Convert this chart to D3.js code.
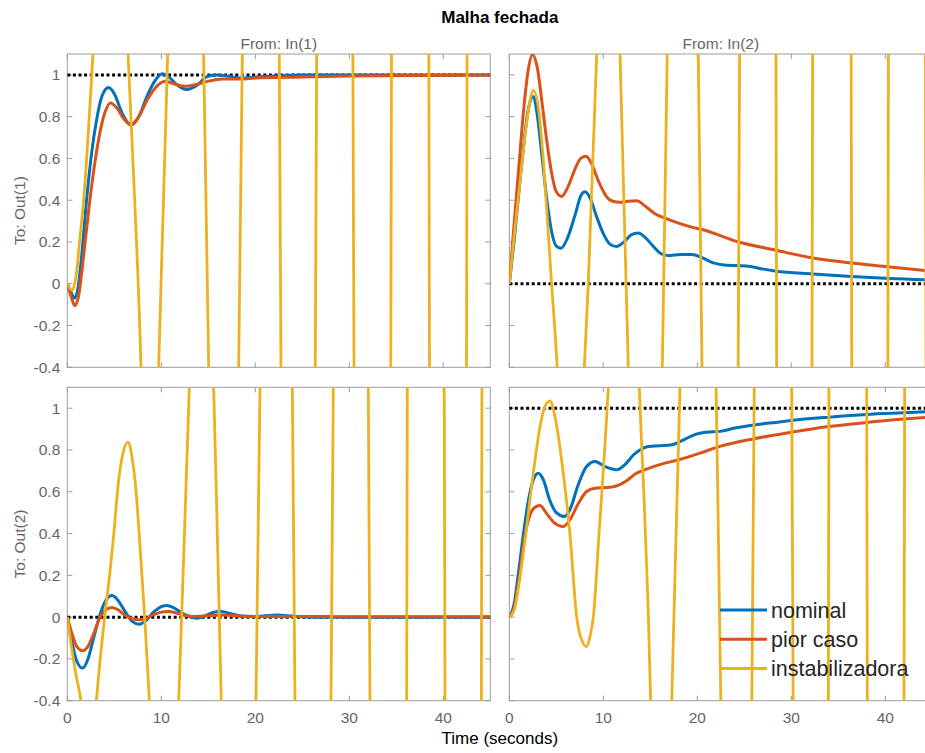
<!DOCTYPE html>
<html>
<head>
<script src="https://cdn.jsdelivr.net/npm/d3@7"></script>
  <meta charset="utf-8">
  <title>Malha fechada</title>
  <style>
    body { margin: 0; background: #fff; }
    svg { display: block; font-family: "Liberation Sans", Arial, sans-serif; }
  </style>
</head>
<body>
  <div id="chartArea"></div>
  <script>
  // ---- data ----
  var seriesNames = ['nominal', 'pior caso', 'instabilizadora'];
  var seriesColors = ['#0072BD', '#D95319', '#EDB120'];
  var inputLabels = ['From: In(1)', 'From: In(2)'];
  var outputLabels = ['To: Out(1)', 'To: Out(2)'];
  var xTicks = [0, 10, 20, 30, 40];
  var yTicks = [-0.4, -0.2, 0, 0.2, 0.4, 0.6, 0.8, 1];
  var steadyOut1 = [1, 0];   // final value, In(1), In(2)
  var steadyOut2 = [0, 1];

  // Out(1) <- In(1)
  var nom11 = [[0,0],[0.4,-0.04],[0.75,-0.07],[1.1,-0.03],[1.5,0.12],[2.05,0.4],[2.6,0.63],[3.1,0.78],[3.7,0.9],[4.4,0.94],[5,0.91],[5.8,0.82],[6.8,0.76],[7.6,0.8],[8.5,0.9],[9.3,0.97],[10.1,1.005],[10.8,0.99],[11.6,0.955],[12.7,0.93],[13.8,0.95],[14.8,0.99],[15.9,1],[17,0.995],[18.4,0.985],[20,0.99],[22,0.995],[25,1],[30,1],[45,1]];
  var pior11 = [[0,0],[0.4,-0.06],[0.8,-0.105],[1.2,-0.06],[1.6,0.08],[2,0.24],[2.4,0.4],[3,0.6],[3.5,0.73],[4,0.82],[4.6,0.866],[5.3,0.84],[6,0.79],[6.8,0.762],[7.6,0.8],[8.5,0.88],[9.4,0.94],[10.4,0.97],[11.5,0.955],[12.6,0.945],[13.8,0.955],[15,0.97],[16.5,0.98],[18.4,0.98],[20,0.985],[25,0.99],[30,0.995],[45,1]];
  var inst11 = [[0,0],[0.5,-0.03],[1,0.06],[1.3,0.2],[1.74,0.4],[2.34,0.8],[2.73,1.1],[4.6,2.2],[6.46,1.1],[7.17,0.4],[7.84,-0.4],[8.8,-2.6],[9.72,-0.4],[10.2,0.35],[10.68,1.1],[12.6,4],[14.5,1.1],[15.04,-0.4],[16.6,-6.5],[18.23,-0.4],[18.62,1.1],[20.6,10],[22.55,1.1],[22.73,-0.4],[24.6,-18],[26.38,-0.4],[26.53,1.1],[28.5,22],[30.38,1.1],[30.5,-0.4],[32.5,-32],[34.41,-0.4],[34.49,1.1],[36.5,40],[38.46,1.1],[38.53,-0.4],[40.5,-46],[42.47,-0.4],[42.53,1.1],[45,60]];

  // Out(1) <- In(2)
  var nom12 = [[0,0],[0.5,0.2],[1,0.43],[1.5,0.65],[2,0.83],[2.55,0.897],[3,0.8],[3.5,0.6],[4,0.4],[4.5,0.25],[5,0.18],[5.5,0.17],[6.2,0.22],[7,0.33],[7.6,0.42],[8.05,0.44],[8.6,0.41],[9.3,0.32],[10,0.24],[10.7,0.19],[11.4,0.178],[12.2,0.2],[13,0.235],[13.7,0.243],[14.5,0.22],[15.3,0.18],[16.1,0.145],[16.9,0.135],[18.2,0.14],[19.4,0.14],[20.5,0.125],[21.7,0.1],[22.8,0.09],[24.2,0.087],[25.6,0.083],[27,0.07],[28.4,0.06],[32.3,0.047],[36.4,0.035],[40.5,0.025],[45,0.018]];
  var pior12 = [[0,0],[0.5,0.28],[1,0.55],[1.5,0.82],[2,1.02],[2.45,1.097],[3,1.03],[3.5,0.86],[4,0.68],[4.5,0.53],[5,0.44],[5.57,0.418],[6.2,0.46],[7,0.55],[7.6,0.6],[8.16,0.61],[8.8,0.57],[9.5,0.49],[10.3,0.42],[11,0.395],[11.8,0.39],[12.6,0.395],[13.55,0.397],[14.5,0.37],[15.5,0.335],[16.56,0.314],[18,0.29],[19.5,0.27],[20.5,0.26],[24.4,0.2],[28.4,0.16],[32.3,0.123],[36.4,0.099],[40.5,0.08],[45,0.06]];
  var inst12 = [[0,0],[0.5,0.22],[1,0.43],[1.5,0.64],[2,0.82],[2.55,0.926],[3,0.87],[3.5,0.66],[4,0.34],[4.5,0],[5.1,-0.4],[6.5,-2],[7.98,-0.4],[8.4,0],[9.3,1.1],[10.6,3.5],[11.78,1.1],[12.66,-0.4],[14.4,-4],[16.28,-0.4],[16.8,1.1],[18.4,6],[20.1,1.1],[20.5,-0.4],[22.4,-10],[24.35,-0.4],[24.5,1.1],[26.4,16],[28.37,1.1],[28.44,-0.4],[30.3,-22],[32.2,-0.4],[32.27,1.1],[34.3,30],[36.37,1.1],[36.43,-0.4],[38.4,-40],[40.27,-0.4],[40.33,1.1],[42.3,50],[44.27,1.1],[44.33,-0.4],[45,-10]];

  // Out(2) <- In(1)
  var nom21 = [[0,0],[0.5,-0.12],[1,-0.21],[1.63,-0.244],[2.2,-0.2],[2.8,-0.1],[3.4,0],[4.1,0.08],[4.76,0.103],[5.4,0.08],[6.1,0.03],[6.9,-0.02],[7.66,-0.034],[8.4,-0.015],[9.2,0.025],[10,0.05],[10.6,0.056],[11.3,0.045],[12.2,0.02],[13,0.003],[13.8,-0.005],[14.6,0.005],[15.5,0.022],[16.3,0.027],[17.3,0.018],[18.5,0.005],[20,0.003],[22.3,0.01],[24,0.005],[26,0],[45,0]];
  var pior21 = [[0,0],[0.5,-0.08],[1,-0.14],[1.63,-0.161],[2.2,-0.14],[2.8,-0.08],[3.4,-0.01],[4.1,0.035],[4.76,0.046],[5.4,0.035],[6.1,0.01],[6.9,-0.008],[7.66,-0.013],[8.4,-0.005],[9.2,0.012],[10,0.024],[10.8,0.027],[11.6,0.02],[12.5,0.008],[13.5,0.003],[15,0.006],[16.5,0.01],[18,0.006],[20,0.003],[25,0.003],[30,0.002],[45,0.002]];
  var inst21 = [[0,0],[0.4,-0.13],[0.9,-0.27],[1.46,-0.4],[2.3,-0.75],[3.09,-0.4],[3.5,-0.2],[3.97,0],[4.5,0.2],[4.93,0.39],[5.4,0.63],[5.9,0.78],[6.46,0.838],[6.9,0.76],[7.3,0.61],[7.66,0.39],[8.23,0],[8.73,-0.4],[10.3,-2.5],[11.85,-0.4],[12.98,1.1],[14.3,3.5],[15.57,1.1],[16.38,-0.4],[18.2,-6],[20.07,-0.4],[20.5,1.1],[22.2,9],[23.94,1.1],[24.22,-0.4],[26.1,-14],[28.05,-0.4],[28.3,1.1],[30.2,20],[32.02,1.1],[32.2,-0.4],[34.1,-28],[36.1,-0.4],[36.17,1.1],[38.1,36],[40.1,1.1],[40.18,-0.4],[42.1,-45],[44.05,-0.4],[44.11,1.1],[45,20]];

  // Out(2) <- In(2)
  var nom22 = [[0,0],[0.5,0.06],[1,0.22],[1.49,0.394],[2,0.55],[2.5,0.65],[3.09,0.689],[3.6,0.66],[4.3,0.56],[5,0.5],[5.85,0.482],[6.5,0.52],[7.3,0.63],[8.2,0.72],[9.12,0.745],[10.2,0.72],[11.4,0.705],[12.3,0.73],[13.3,0.78],[14.8,0.817],[16,0.82],[17.3,0.825],[18.6,0.85],[19.8,0.875],[21,0.885],[22.4,0.889],[24,0.905],[25.96,0.92],[28,0.93],[30,0.941],[34,0.957],[38,0.97],[42,0.978],[45,0.984]];
  var pior22 = [[0,0],[0.5,0.04],[1,0.17],[1.67,0.394],[2.3,0.5],[2.7,0.525],[3.27,0.534],[3.9,0.5],[4.7,0.455],[5.74,0.434],[6.5,0.47],[7.3,0.54],[8.2,0.6],[9.12,0.617],[10.2,0.62],[11.2,0.625],[12.4,0.65],[13.4,0.685],[14.4,0.705],[16,0.73],[18,0.753],[20.3,0.785],[22.4,0.817],[25.96,0.853],[30,0.885],[34,0.912],[38,0.932],[42,0.948],[45,0.958]];
  var inst22 = [[0,0],[0.5,0.03],[1,0.15],[1.74,0.394],[2.55,0.689],[3.3,0.92],[3.8,1.01],[4.33,1.035],[4.9,0.95],[5.74,0.689],[6.46,0.394],[7.17,0],[7.7,-0.11],[8.23,-0.141],[8.6,-0.09],[8.94,0],[9.54,0.394],[10.53,1.1],[12.2,3],[13.83,1.1],[15.04,-0.4],[16.2,-3.5],[17.28,-0.4],[18.16,1.1],[20.1,7],[22,1.1],[22.5,-0.4],[24.1,-10],[25.8,-0.4],[26.06,1.1],[28,16],[30.04,1.1],[30.2,-0.4],[32,-22],[33.94,-0.4],[34,1.1],[36,30],[38.02,1.1],[38.09,-0.4],[40,-40],[41.99,-0.4],[42.06,1.1],[45,50]];

  // ---- layout ----
  var width = 925, height = 753;
  var colX = [[67.3, 490.3], [509.3, 932.3]];
  var rowY = [[54, 367.3], [387.3, 700.7]];
  var axisGray = '#9c9c9c', textGray = '#666666';

  var panels = [
    { row: 0, col: 0, steady: steadyOut1[0], lines: [nom11, pior11, inst11] },
    { row: 0, col: 1, steady: steadyOut1[1], lines: [nom12, pior12, inst12] },
    { row: 1, col: 0, steady: steadyOut2[0], lines: [nom21, pior21, inst21] },
    { row: 1, col: 1, steady: steadyOut2[1], lines: [nom22, pior22, inst22] }
  ];

  var svg = d3.select('#chartArea')
    .append('svg')
    .attr('width', width)
    .attr('height', height);

  svg.append('rect').attr('width', width).attr('height', height).attr('fill', '#fff');

  panels.forEach(function(p, i) {
    var x = d3.scaleLinear().domain([0, 45]).range(colX[p.col]);
    var y = d3.scaleLinear().domain([-0.4, 1.1]).range([rowY[p.row][1], rowY[p.row][0]]);
    var g = svg.append('g');
    var clipId = 'clip' + i;

    g.append('clipPath').attr('id', clipId)
      .append('rect')
      .attr('x', x.range()[0]).attr('y', y.range()[1])
      .attr('width', x.range()[1] - x.range()[0])
      .attr('height', y.range()[0] - y.range()[1]);

    // box
    g.append('rect')
      .attr('x', x.range()[0]).attr('y', y.range()[1])
      .attr('width', x.range()[1] - x.range()[0])
      .attr('height', y.range()[0] - y.range()[1])
      .attr('fill', 'none').attr('stroke', axisGray).attr('stroke-width', 1);

    // inward ticks on all four sides
    var tl = 5;
    xTicks.forEach(function(t) {
      g.append('line').attr('x1', x(t)).attr('x2', x(t))
        .attr('y1', y.range()[0]).attr('y2', y.range()[0] - tl)
        .attr('stroke', axisGray);
      g.append('line').attr('x1', x(t)).attr('x2', x(t))
        .attr('y1', y.range()[1]).attr('y2', y.range()[1] + tl)
        .attr('stroke', axisGray);
    });
    yTicks.forEach(function(t) {
      g.append('line').attr('x1', x.range()[0]).attr('x2', x.range()[0] + tl)
        .attr('y1', y(t)).attr('y2', y(t)).attr('stroke', axisGray);
      g.append('line').attr('x1', x.range()[1]).attr('x2', x.range()[1] - tl)
        .attr('y1', y(t)).attr('y2', y(t)).attr('stroke', axisGray);
    });

    if (p.col === 0) {
      g.selectAll('.ylab').data(yTicks).enter().append('text')
        .attr('x', x.range()[0] - 7)
        .attr('y', function(d) { return y(d); })
        .attr('dy', '0.35em')
        .attr('text-anchor', 'end')
        .attr('font-size', 15.5)
        .attr('fill', textGray)
        .text(function(d) { return String(d); });
    }
    if (p.row === 1) {
      g.selectAll('.xlab').data(xTicks).enter().append('text')
        .attr('x', function(d) { return x(d); })
        .attr('y', y.range()[0] + 22)
        .attr('text-anchor', 'middle')
        .attr('font-size', 15.5)
        .attr('fill', textGray)
        .text(function(d) { return d; });
    }

    var plot = g.append('g').attr('clip-path', 'url(#' + clipId + ')');

    plot.append('line')
      .attr('x1', x(0)).attr('x2', x(45))
      .attr('y1', y(p.steady)).attr('y2', y(p.steady))
      .attr('stroke', '#000').attr('stroke-width', 3)
      .attr('stroke-dasharray', '3,2.6');

    var line = d3.line()
      .x(function(d) { return x(d[0]); })
      .y(function(d) { return y(d[1]); })
      .curve(d3.curveMonotoneX);

    p.lines.forEach(function(data, k) {
      plot.append('path')
        .attr('d', line(data))
        .attr('fill', 'none')
        .attr('stroke', seriesColors[k])
        .attr('stroke-width', k === 2 ? 2.8 : 3)
        .attr('stroke-linejoin', 'round');
    });
  });

  // column / row labels
  [0, 1].forEach(function(c) {
    svg.append('text')
      .attr('x', (colX[c][0] + colX[c][1]) / 2)
      .attr('y', 49)
      .attr('text-anchor', 'middle')
      .attr('font-size', 15.5)
      .attr('fill', textGray)
      .text(inputLabels[c]);
  });
  [0, 1].forEach(function(r) {
    var cy = (rowY[r][0] + rowY[r][1]) / 2;
    svg.append('text')
      .attr('transform', 'translate(25,' + cy + ') rotate(-90)')
      .attr('text-anchor', 'middle')
      .attr('font-size', 15.5)
      .attr('fill', textGray)
      .text(outputLabels[r]);
  });

  var midX = (colX[0][0] + colX[1][1]) / 2;
  svg.append('text')
    .attr('x', midX).attr('y', 23)
    .attr('text-anchor', 'middle')
    .attr('font-size', 17).attr('font-weight', 'bold')
    .attr('fill', '#000')
    .text('Malha fechada');

  svg.append('text')
    .attr('x', midX).attr('y', 744)
    .attr('text-anchor', 'middle')
    .attr('font-size', 17)
    .attr('fill', '#000')
    .text('Time (seconds)');

  // legend (no box), inside bottom-right panel
  var legend = svg.append('g');
  seriesNames.forEach(function(name, k) {
    var ly = 610 + k * 29.3;
    legend.append('line')
      .attr('x1', 720).attr('x2', 767)
      .attr('y1', ly).attr('y2', ly)
      .attr('stroke', seriesColors[k]).attr('stroke-width', 3);
    legend.append('text')
      .attr('x', 771).attr('y', ly)
      .attr('dy', '0.36em')
      .attr('font-size', 21.5)
      .attr('fill', '#262626')
      .text(name);
  });
  </script>
</body>
</html>
